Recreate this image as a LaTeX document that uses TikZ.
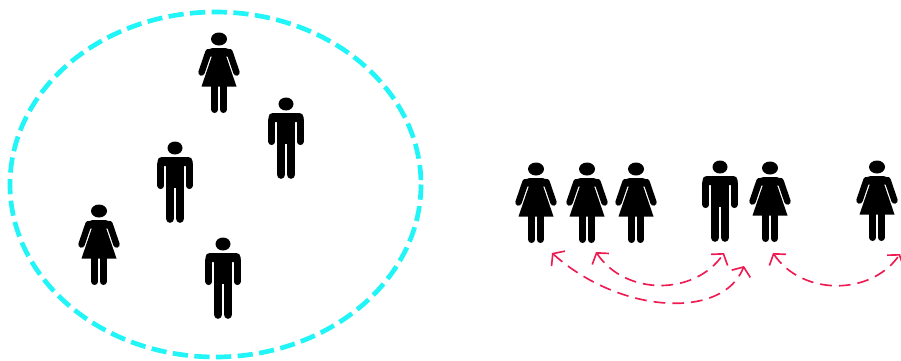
\documentclass[tikz,border=0pt]{standalone}
\usepackage{xcolor}
\usetikzlibrary{arrows.meta}
\definecolor{groupcyan}{HTML}{22F5F7}
\definecolor{swapred}{HTML}{EE1B52}
\tikzset{
    head/.style={fill=black},
    limb/.style={draw=black, line cap=round, line width=#1},
    woman/.pic={
        \fill[head] (0,0) circle[x radius=8, y radius=6.5];
        \fill[rounded corners=3pt] (-12.5,17.5) -- (-10,9) -- (10,9) -- (12.5,17.5) -- cycle;
        \fill (-17.5,47.5) -- (-6.7,16) -- (6.7,16) -- (17.5,47.5) -- cycle;
        \draw[limb=5.5pt] (-10.5,13) -- (-17.5,33.5);
        \draw[limb=5.5pt] (10.5,13) -- (17.5,33.5);
        \draw[limb=6pt] (-4.3,47) -- (-4.3,70.5);
        \draw[limb=6pt] (4.3,47) -- (4.3,70.5);
    },
    man/.pic={
        \fill[head] (0,0) circle[x radius=7.5, y radius=6.5];
        \fill (-17.5,18) [rounded corners=3.5pt] -- (-17.5,9) -- (17.5,9) [sharp corners] -- (17.5,18) -- cycle;
        \fill (-8.7,15) rectangle (8.7,40);
        \draw[limb=5.7pt] (-14.2,16) -- (-14.2,37.7);
        \draw[limb=5.7pt] (14.2,16) -- (14.2,37.7);
        \draw[limb=7.4pt] (-5,38) -- (-5,70.5);
        \draw[limb=7.4pt] (5,38) -- (5,70.5);
    },
    swap/.style={draw=swapred, line width=1.4pt, dash pattern=on 10pt off 6pt, <->},
}
\begin{document}
\begin{tikzpicture}[
    x=0.03cm, y=-0.03cm,
    >={Straight Barb[length=2.2mm, width=6mm, line width=1.4pt]},
]
\useasboundingbox (0,0) rectangle (901,360);
% the group, loose inside the ellipse
\draw[groupcyan, line width=4pt, dash pattern=on 13pt off 5.5pt] (215.5,184.5) circle[x radius=205.5, y radius=172.5];
\foreach \n/\x/\y in {a/219/39, b/99/211}{\pic (\n) at (\x,\y) {woman};}
\foreach \n/\x/\y in {c/286/104, d/175/148, e/223/244}{\pic (\n) at (\x,\y) {man};}
% the same people standing in a row
\foreach \n/\x/\y in {f/536/169, g/587/169, h/636/169, j/770/168, k/877/167}{\pic (\n) at (\x,\y) {woman};}
\pic (i) at (720,167) {man};
% free ends of the swaps
\coordinate (fa) at (552,253);
\coordinate (fb) at (744,266);
\coordinate (ga) at (596,252);
\coordinate (gb) at (724,253);
\coordinate (ja) at (773,253);
\coordinate (jb) at (900,254);
\draw[swap] (fa) .. controls (620,314) and (723,320) .. (fb);
\draw[swap] (ga) .. controls (625,296) and (695,296) .. (gb);
\draw[swap] (ja) .. controls (802,296) and (871,296) .. (jb);
\end{tikzpicture}
\end{document}
